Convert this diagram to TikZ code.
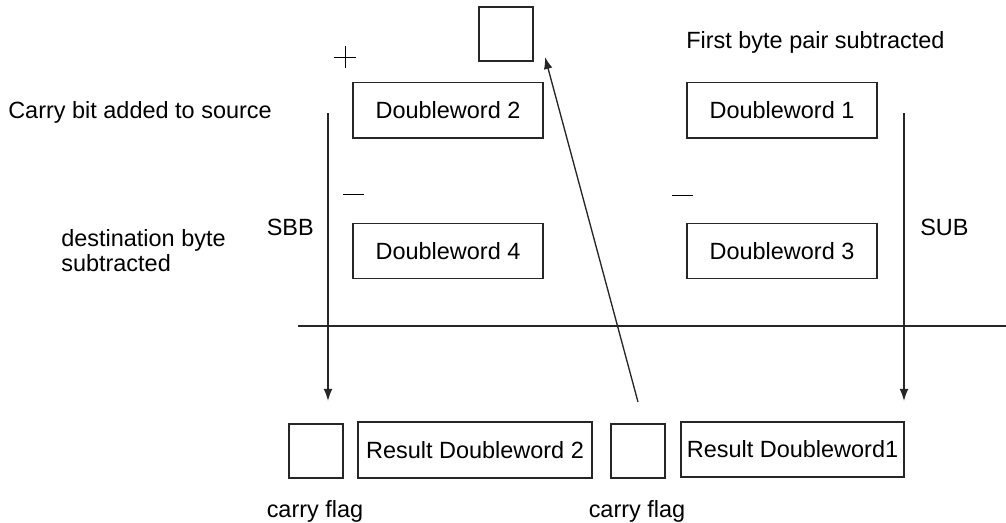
\documentclass[tikz,border=0pt]{standalone}
\usepackage{fontspec}
\setmainfont{Liberation Sans}
\usetikzlibrary{arrows.meta}
\begin{document}
\begin{tikzpicture}[x=0.75pt,y=-0.75pt,
  every node/.style={font=\fontsize{17.6}{19}\selectfont, inner sep=0pt},
  box/.style={draw=black!85, line width=1pt},
  wordbox/.style={box, minimum width=142.5pt, minimum height=41.5pt},
  flagbox/.style={box, minimum width=40.5pt, minimum height=40.5pt},
  ln/.style={line width=1pt, draw=black!85},
  arr/.style={ln, -{Latex[length=9pt,width=6.5pt]}},
  lbl/.style={anchor=base west}]
\useasboundingbox (0,0) rectangle (1006,523);
% boxes
\node[flagbox] (top) at (506,34) {};
\node[wordbox] (dw2) at (448,110.5) {Doubleword 2};
\node[wordbox] (dw1) at (782,110.5) {Doubleword 1};
\node[wordbox] (dw4) at (448,251) {Doubleword 4};
\node[wordbox] (dw3) at (782,251) {Doubleword 3};
\node[flagbox] (cf2) at (316,451) {};
\node[box, minimum width=175.5pt, minimum height=42pt] (r2) at (475,450) {Result Doubleword 2};
\node[flagbox] (cf1) at (638,451) {};
\node[box, minimum width=167.25pt, minimum height=41.25pt] (r1) at (792.5,449.5) {Result Doubleword1};
% labels
\node[lbl] (t1) at (686,49) {First byte pair subtracted};
\node[lbl] (t2) at (8,119) {Carry bit added to source};
\node[lbl, align=left, font=\fontsize{17.6}{18.75}\selectfont] (t3) at (61,272) {destination byte\\subtracted};
\node[anchor=base east] (sbb) at (314,236) {SBB};
\node[lbl] (sub) at (920,236) {SUB};
\node[anchor=base] (cfl2) at (315,517) {carry flag};
\node[anchor=base] (cfl1) at (637,517) {carry flag};
% plus and minus signs
\coordinate (p) at (345,57);
\draw[line width=0.7pt] ([xshift=-8.25pt]p) -- ([xshift=8.25pt]p);
\draw[line width=0.7pt] ([yshift=8pt]p) -- ([yshift=-8pt]p);
\coordinate (m1a) at (343,194); \coordinate (m1b) at (364,194);
\draw[line width=0.7pt] (m1a) -- (m1b);
\coordinate (m2a) at (672,195); \coordinate (m2b) at (693,195);
\draw[line width=0.7pt] (m2a) -- (m2b);
% horizontal rule
\coordinate (h1) at (298,326); \coordinate (h2) at (1006,326);
\draw[ln] (h1) -- (h2);
% arrows
\coordinate (sbbtop) at (328,113); \coordinate (sbbend) at (328,401);
\draw[arr] (sbbtop) -- (sbbend);
\coordinate (subtop) at (904,113); \coordinate (subend) at (904,401);
\draw[arr] (subtop) -- (subend);
\coordinate (cstart) at (638,402); \coordinate (cend) at (545,57);
\draw[arr] (cstart) -- (cend);
\end{tikzpicture}
\end{document}
